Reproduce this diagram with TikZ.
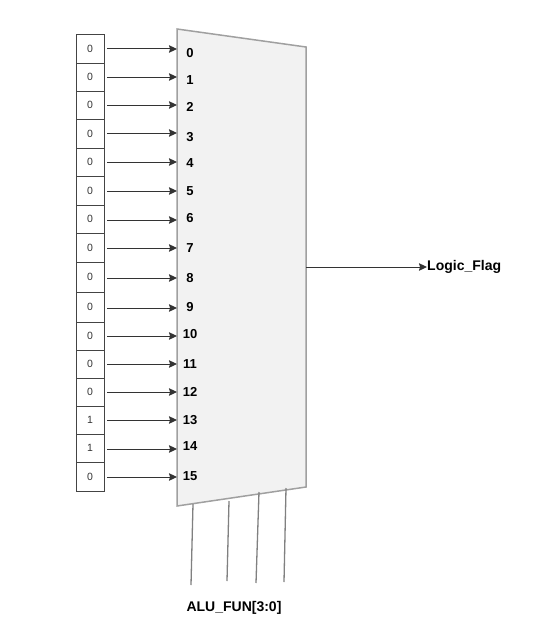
\documentclass[tikz,border=0pt]{standalone}
\usepackage{fontspec}
\setmainfont{Liberation Sans}
\usetikzlibrary{arrows.meta}
\definecolor{muxfill}{HTML}{F2F2F2}
\definecolor{muxline}{HTML}{A0A0A0}
\definecolor{wire}{HTML}{333333}
\definecolor{boxline}{HTML}{444444}
\definecolor{selwire}{HTML}{808080}
\begin{document}
\begin{tikzpicture}[x=1pt,y=-1pt,
  regbox/.style={draw=boxline, line width=0.9pt, minimum width=28pt, inner sep=0pt, outer sep=0pt,
    font=\fontsize{10.5}{12}\selectfont, text=wire},
  portlbl/.style={font=\bfseries\fontsize{13}{15}\selectfont, inner sep=0pt},
  biglbl/.style={font=\bfseries\fontsize{14}{16}\selectfont, inner sep=0pt},
  sig/.style={draw=wire, line width=1pt, -{Stealth[length=8pt,width=7.5pt,inset=1pt]}},
  mux/.style={draw=muxline, fill=muxfill, line width=1.5pt},
  selline/.style={draw=selwire, line width=1.3pt}]
\useasboundingbox (0,0) rectangle (546,642);
\coordinate (tl) at (177,29);
\coordinate (tr) at (306,47);
\coordinate (br) at (306,487);
\coordinate (bl) at (177,506);
\draw[mux] (tl) -- (tr) -- (br) -- (bl) -- cycle;
\foreach \i/\t/\b/\v/\ay/\ly in {
  0/34/63/0/49/53, 1/63/91/0/77/80, 2/91/119/0/105/107, 3/119/148/0/133/137,
  4/148/176/0/162/163, 5/176/205/0/191/191, 6/205/233/0/220/218, 7/233/262/0/248/248,
  8/262/292/0/278/278, 9/292/322/0/308/307, 10/322/350/0/336/334, 11/350/378/0/364/364,
  12/378/406/0/392/392, 13/406/434/1/420/420, 14/434/462/1/449/446, 15/462/491/0/477/476}{
  \pgfmathsetmacro\h{\b-\t}
  \pgfmathsetmacro\c{(\t+\b)/2}
  \node[regbox, minimum height=\h pt] (b\i) at (90,\c) {\v};
  \coordinate (s\i) at (107,\ay);
  \coordinate (in\i) at (177,\ay);
  \draw[sig] (s\i) -- (in\i);
  \node[portlbl] (p\i) at (190,\ly) {\i};
}
\coordinate (out) at (306,267);
\node[biglbl, anchor=west] (flag) at (427,267) {Logic\_Flag};
\draw[sig] (out) -- (flag.west);
\foreach \k/\xa/\ya/\xb/\yb in {0/193/504/191/585, 1/229/501/227/581, 2/259/492/256/583, 3/286/488/284/582}{
  \coordinate (st\k) at (\xa,\ya);
  \coordinate (se\k) at (\xb,\yb);
  \draw[selline] (st\k) -- (se\k);
}
\node[biglbl] (alu) at (234,608) {ALU\_FUN[3:0]};
\end{tikzpicture}
\end{document}
